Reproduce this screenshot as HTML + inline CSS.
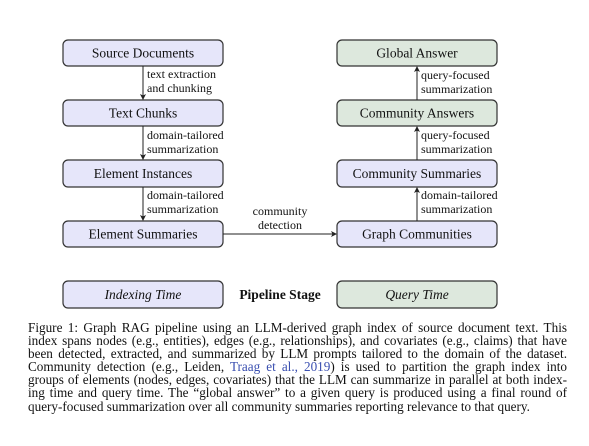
<!DOCTYPE html>
<html><head><meta charset="utf-8"><style>
body{margin:0;background:#fff;width:589px;height:446px;overflow:hidden;position:relative;font-family:"Liberation Serif",serif;}
.cap{position:absolute;left:28px;width:539px;font-size:13.2px;line-height:13.1px;color:#111;}
.cap div{text-align:justify;text-align-last:justify;white-space:nowrap;height:13.1px;}
.cap div.last{text-align-last:left;}
</style></head><body>
<svg width="589" height="320" style="position:absolute;left:0;top:0" font-family="Liberation Serif, serif">
<defs><marker id="a" markerWidth="6" markerHeight="6" refX="5" refY="3" orient="auto" markerUnits="userSpaceOnUse"><path d="M0,0 L6,3 L0,6 L1.5,3z" fill="#222"/></marker></defs>
<g stroke="#333" stroke-width="1.2">
<rect x="63" y="40" width="160" height="26" rx="5" fill="#e6e6fa"/>
<rect x="63" y="100" width="160" height="26" rx="5" fill="#e6e6fa"/>
<rect x="63" y="160" width="160" height="27" rx="5" fill="#e6e6fa"/>
<rect x="63" y="221" width="160" height="26" rx="5" fill="#e6e6fa"/>
<rect x="63" y="281" width="160" height="27" rx="5" fill="#e6e6fa"/>
<rect x="337" y="40" width="160" height="26" rx="5" fill="#dde8dd"/>
<rect x="337" y="100" width="160" height="26" rx="5" fill="#dde8dd"/>
<rect x="337" y="160" width="160" height="27" rx="5" fill="#e6e6fa"/>
<rect x="337" y="221" width="160" height="26" rx="5" fill="#e6e6fa"/>
<rect x="337" y="281" width="160" height="27" rx="5" fill="#dde8dd"/>
</g>
<g stroke="#222" stroke-width="1" marker-end="url(#a)">
<line x1="143" y1="66" x2="143" y2="99"/>
<line x1="143" y1="126" x2="143" y2="159"/>
<line x1="143" y1="187" x2="143" y2="220"/>
<line x1="417" y1="100" x2="417" y2="67"/>
<line x1="417" y1="160" x2="417" y2="127"/>
<line x1="417" y1="221" x2="417" y2="188"/>
<line x1="223" y1="234" x2="336" y2="234"/>
</g>
<g font-size="13.5" text-anchor="middle" fill="#111">
<text x="143" y="57.5">Source Documents</text>
<text x="143" y="117.5">Text Chunks</text>
<text x="143" y="178">Element Instances</text>
<text x="143" y="238.5">Element Summaries</text>
<text x="143" y="299" font-style="italic">Indexing Time</text>
<text x="417" y="57.5">Global Answer</text>
<text x="417" y="117.5">Community Answers</text>
<text x="417" y="178">Community Summaries</text>
<text x="417" y="238.5">Graph Communities</text>
<text x="417" y="299" font-style="italic">Query Time</text>
<text x="280" y="299" font-weight="bold">Pipeline Stage</text>
</g>
<g font-size="12" fill="#111">
<text x="147" y="78">text extraction</text><text x="147" y="92">and chunking</text>
<text x="147" y="139">domain-tailored</text><text x="147" y="153">summarization</text>
<text x="147" y="199">domain-tailored</text><text x="147" y="213">summarization</text>
<text x="421" y="79">query-focused</text><text x="421" y="93">summarization</text>
<text x="421" y="139">query-focused</text><text x="421" y="153">summarization</text>
<text x="421" y="199">domain-tailored</text><text x="421" y="213">summarization</text>
<text x="280" y="215" text-anchor="middle">community</text><text x="280" y="229" text-anchor="middle">detection</text>
</g>
</svg>
<div class="cap" style="top:321px">
<div>Figure 1: Graph RAG pipeline using an LLM-derived graph index of source document text. This</div>
<div>index spans nodes (e.g., entities), edges (e.g., relationships), and covariates (e.g., claims) that have</div>
<div>been detected, extracted, and summarized by LLM prompts tailored to the domain of the dataset.</div>
<div>Community detection (e.g., Leiden, <span style="color:#3a4fb0">Traag et al., 2019</span>) is used to partition the graph index into</div>
<div>groups of elements (nodes, edges, covariates) that the LLM can summarize in parallel at both index-</div>
<div>ing time and query time. The “global answer” to a given query is produced using a final round of</div>
<div class="last">query-focused summarization over all community summaries reporting relevance to that query.</div>
</div>
</body></html>
